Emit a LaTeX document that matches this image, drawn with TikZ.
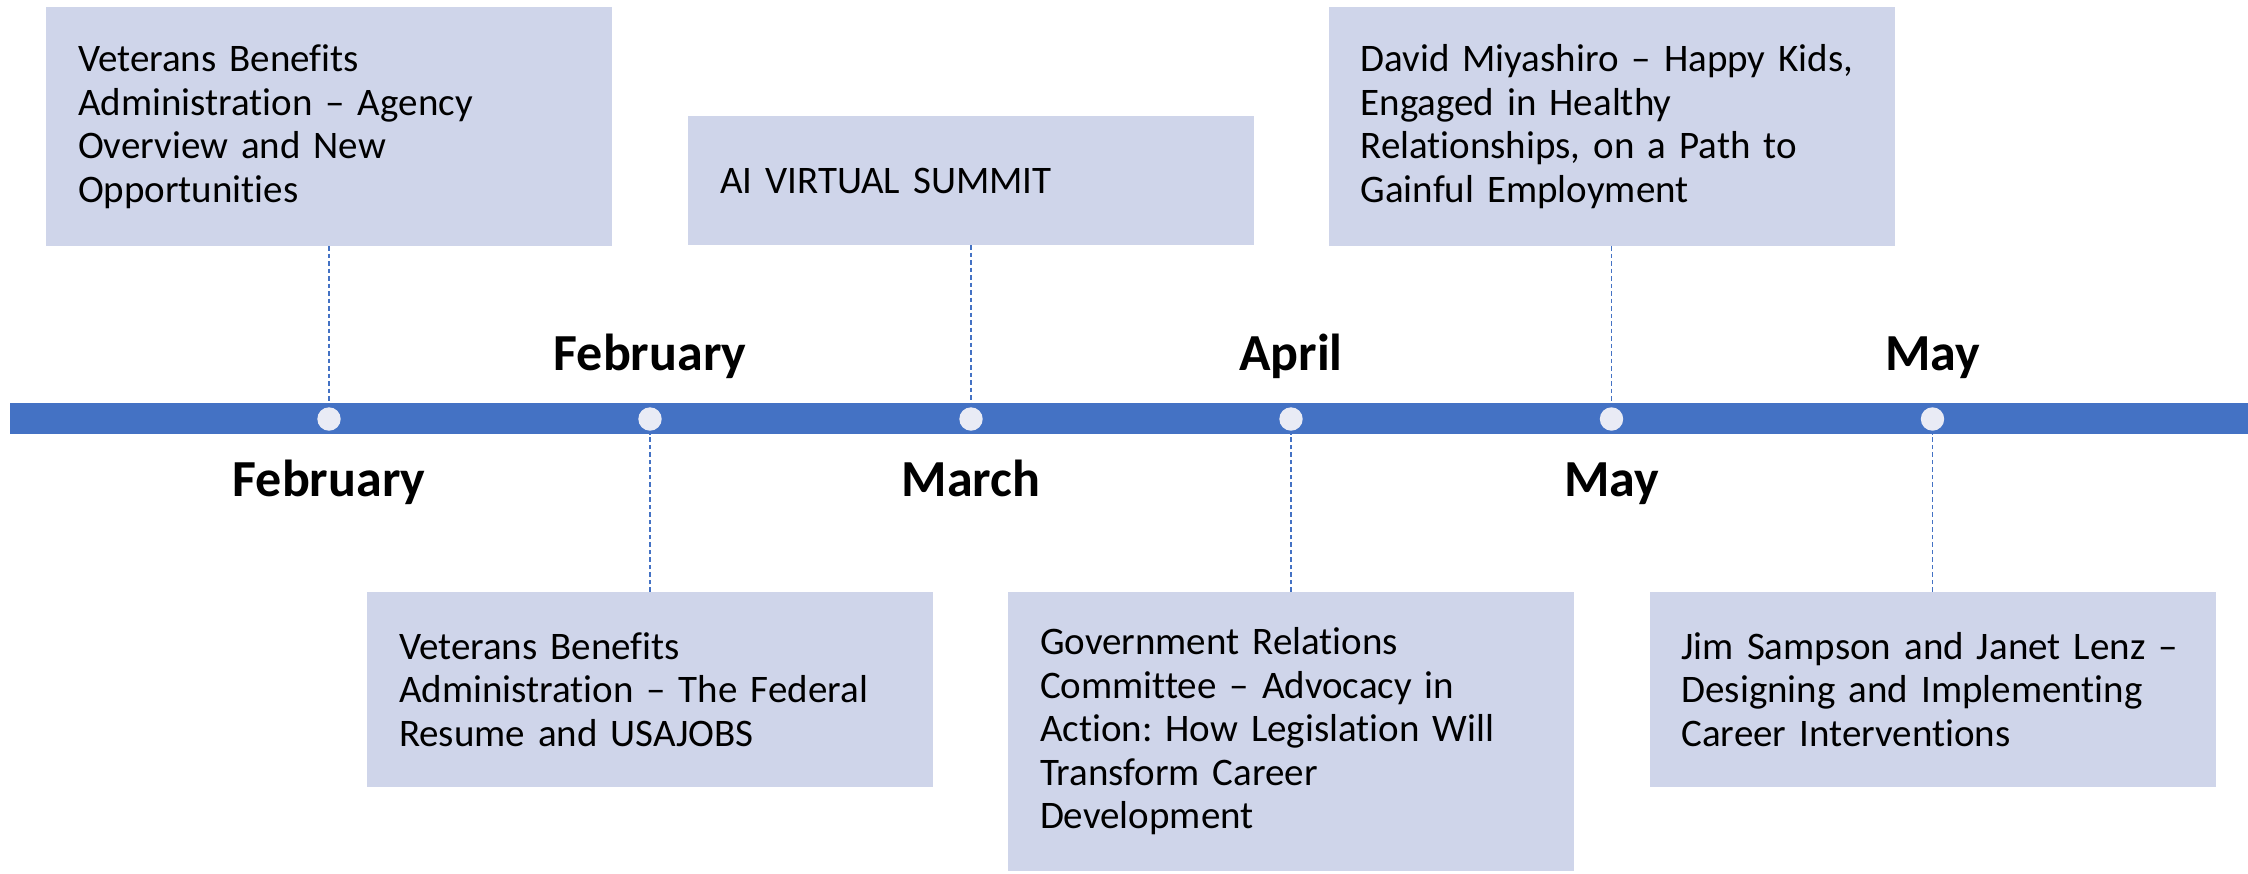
\documentclass[tikz,border=0pt]{standalone}
\usepackage{fontspec}
\setmainfont[Ligatures=NoCommon]{Carlito}
\frenchspacing
\definecolor{barblue}{HTML}{4472C4}
\definecolor{boxfill}{HTML}{CFD5EA}
\definecolor{dotfill}{HTML}{E9EBF5}
\tikzset{
  evbox/.style={fill=boxfill, draw=none, minimum width=566pt, text width=502pt, align=left, inner sep=0pt,
    font=\fontsize{39pt}{43.5pt}\selectfont},
  dotnode/.style={circle, fill=dotfill, draw=none, minimum size=23.4pt, inner sep=0pt},
  conn/.style={draw=barblue, line width=1.4pt, dash pattern=on 4.5pt off 3pt},
  month/.style={font=\fontsize{52pt}{56pt}\selectfont\bfseries, anchor=base, inner sep=0pt}
}
\begin{document}
\begin{tikzpicture}[x=1pt,y=-1pt]
\useasboundingbox (0,0) rectangle (2248,873);
% event boxes
\node[evbox, minimum height=239pt] (e1) at (329,126.5) {\mbox{Veterans Benefits}\\\mbox{Administration -- Agency}\\\mbox{Overview and New}\\Opportunities};
\node[evbox, minimum height=129pt] (e3) at (971,180.5) {\mbox{AI VIRTUAL SUMMIT}};
\node[evbox, minimum height=239pt] (e5) at (1611.5,126.5) {\mbox{David Miyashiro -- Happy Kids,}\\\mbox{Engaged in Healthy}\\\mbox{Relationships, on a Path to}\\\mbox{Gainful Employment}};
\node[evbox, minimum height=195pt] (e2) at (650,689.5) {\mbox{Veterans Benefits}\\\mbox{Administration -- The Federal}\\\mbox{Resume and USAJOBS}};
\node[evbox, minimum height=279pt] (e4) at (1291,731.5) {\mbox{Government Relations}\\\mbox{Committee -- Advocacy in}\\\mbox{Action: How Legislation Will}\\\mbox{Transform Career}\\Development};
\node[evbox, minimum height=195pt] (e6) at (1932.5,689.5) {\mbox{Jim Sampson and Janet Lenz --}\\\mbox{Designing and Implementing}\\\mbox{Career Interventions}};
% bar anchor coordinates
\coordinate (t1) at (329,403);
\coordinate (t3) at (971,403);
\coordinate (t5) at (1611.5,403);
\coordinate (b2) at (650,434);
\coordinate (b4) at (1291,434);
\coordinate (b6) at (1932.5,434);
% connectors
\draw[conn] (e1.south) -- (t1);
\draw[conn] (e3.south) -- (t3);
\draw[conn] (e5.south) -- (t5);
\draw[conn] (e2.north) -- (b2);
\draw[conn] (e4.north) -- (b4);
\draw[conn] (e6.north) -- (b6);
% timeline bar
\fill[barblue] (10,403) rectangle (2248,434);
% dots
\node[dotnode] (d1) at (329,419) {};
\node[dotnode] (d2) at (650,419) {};
\node[dotnode] (d3) at (971,419) {};
\node[dotnode] (d4) at (1291,419) {};
\node[dotnode] (d5) at (1611.5,419) {};
\node[dotnode] (d6) at (1932.5,419) {};
% month labels
\node[month] (m2) at (650,370) {February};
\node[month] (m4) at (1291,370) {April};
\node[month] (m6) at (1932.5,370) {May};
\node[month] (m1) at (329,496) {February};
\node[month] (m3) at (971,496) {March};
\node[month] (m5) at (1611.5,496) {May};
\end{tikzpicture}
\end{document}
